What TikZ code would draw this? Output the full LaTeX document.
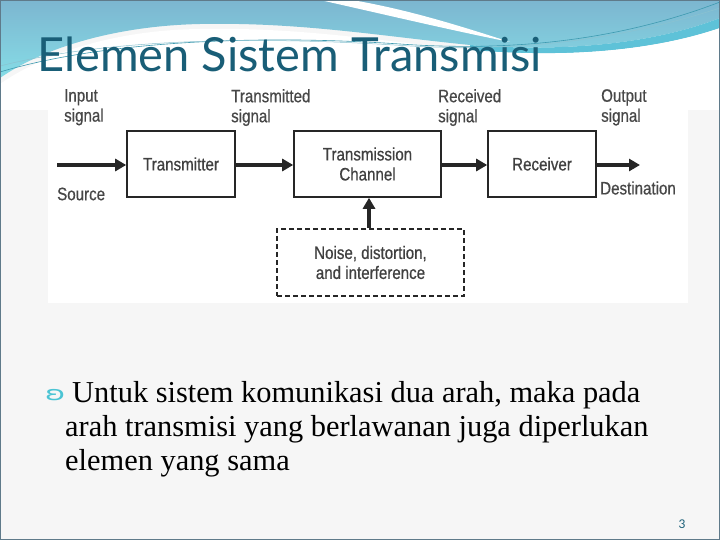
\documentclass[tikz,border=0pt]{standalone}
\usepackage{fontspec}
\setmainfont{Liberation Serif}
\newfontfamily\titlefont{Lato}
\newfontfamily\diafont[FakeStretch=0.84,FakeBold=0.6]{Liberation Sans}
\newfontfamily\bulletfont{DejaVu Sans}
\usetikzlibrary{arrows.meta}

\tikzset{
  blk/.style={draw=black!85, line width=1.6pt, fill=white, minimum width=108pt,
    minimum height=66pt, inner sep=0pt, align=center, text=black!75,
    font=\diafont\fontsize{18}{20}\selectfont},
  noisebox/.style={blk, dash pattern=on 5pt off 3pt, line width=2.2pt},
  lbl/.style={inner sep=0pt, align=left, text=black!72,
    font=\diafont\fontsize{18}{20}\selectfont},
  flow/.style={line width=3.6pt, draw=black!85, -{Triangle[length=11pt,width=12pt]}},
  bodytxt/.style={inner sep=0pt, anchor=base west, font=\fontsize{30.4}{34}\selectfont}
}

\begin{document}
\begin{tikzpicture}[x=1pt,y=-1pt]
  \definecolor{slideBg}{HTML}{F6F6F6}
  \definecolor{bandTop}{HTML}{7CB6D0}
  \definecolor{bandLow}{HTML}{86DCE6}
  \definecolor{bandDeep}{HTML}{5EC2D8}
  \definecolor{waveLine}{HTML}{3E9AB0}
  \definecolor{titleCol}{HTML}{195E77}
  \definecolor{bulletCol}{HTML}{4BC4D4}
  \definecolor{frameCol}{HTML}{5F7A8A}

  \useasboundingbox (0,0) rectangle (720,540);
  \fill[slideBg] (0,0) rectangle (720,540);

  \shade[top color=bandTop, bottom color=bandLow] (0,0) -- (720,0) -- (720,18)
    .. controls (650,45) and (560,52) .. (470,45)
    .. controls (380,36) and (300,22) .. (200,24)
    .. controls (110,26) and (40,50) .. (0,78) -- cycle;
  \fill[bandDeep] (470,45) .. controls (560,52) and (650,45) .. (720,18) -- (720,28)
    .. controls (650,52) and (560,58) .. (470,50) -- cycle;
  \fill[white] (320,0) .. controls (400,18) and (450,30) .. (510,42)
    .. controls (460,26) and (410,10) .. (352,0) -- cycle;
  \fill[white] (0,84) .. controls (40,56) and (110,30) .. (200,29)
    .. controls (300,27) and (380,41) .. (470,50)
    .. controls (560,58) and (650,52) .. (720,28) -- (720,540) -- (0,540) -- cycle;
  \fill[slideBg] (0,110) rectangle (720,540);
  \draw[waveLine, line width=0.6pt] (0,72) .. controls (100,42) and (250,34) .. (400,44)
    .. controls (500,51) and (610,44) .. (720,2);
  \draw[waveLine!60, line width=0.5pt] (0,66) .. controls (110,38) and (260,36) .. (410,46)
    .. controls (520,52) and (620,40) .. (720,8);

  \node[font=\titlefont\fontsize{47}{50}\selectfont, text=titleCol, inner sep=0pt,
    anchor=base west] (title) at (37,72) {Elemen Sistem Transmisi};

  \fill[white] (48,82) rectangle (688,303);

  \node[blk] (tx) at (181,164) {Transmitter};
  \node[blk, minimum width=147pt] (chan) at (367.5,164) {Transmission\\Channel};
  \node[blk] (rx) at (542,164) {Receiver};
  \node[noisebox, minimum width=187pt, minimum height=67pt] (noise) at (370.5,262.5)
    {Noise, distortion,\\and interference};

  \coordinate (src) at (57,165);
  \coordinate (dst) at (640,165);

  \draw[flow] (src) -- (tx.west |- src);
  \draw[flow] (tx.east |- src) -- (chan.west |- src);
  \draw[flow] (chan.east |- src) -- (rx.west |- src);
  \draw[flow] (rx.east |- dst) -- (dst);
  \draw[flow] ([xshift=-1.5pt]noise.north) -- ([xshift=-1.5pt]noise.north |- chan.south);

  \node[lbl, anchor=north west] (inlbl) at (64,89) {Input\\signal};
  \node[lbl, anchor=north west] (txlbl) at (231,89) {Transmitted\\signal};
  \node[lbl, anchor=north west] (rxlbl) at (438,89) {Received\\signal};
  \node[lbl, anchor=north west] (outlbl) at (601,89) {Output\\signal};
  \node[lbl, anchor=west] (srclbl) at (57,194) {Source};
  \node[lbl, anchor=west] (dstlbl) at (600,188) {Destination};

  \node[inner sep=0pt, anchor=base west, text=bulletCol,
    font=\bulletfont\fontsize{18}{20}\selectfont] (bul) at (45,400)
    {\scalebox{1.7}[1.1]{ʚ}};
  \node[bodytxt] (line1) at (72,402) {Untuk sistem komunikasi dua arah, maka pada};
  \node[bodytxt] (line2) at (65,436) {arah transmisi yang berlawanan juga diperlukan};
  \node[bodytxt] (line3) at (65,470) {elemen yang sama};

  \node[inner sep=0pt, anchor=base, text=titleCol, font=\titlefont\fontsize{12}{14}\selectfont]
    (pnum) at (682,528) {3};

  \draw[frameCol, line width=1.2pt] (0,0) rectangle (720,540);
\end{tikzpicture}
\end{document}
